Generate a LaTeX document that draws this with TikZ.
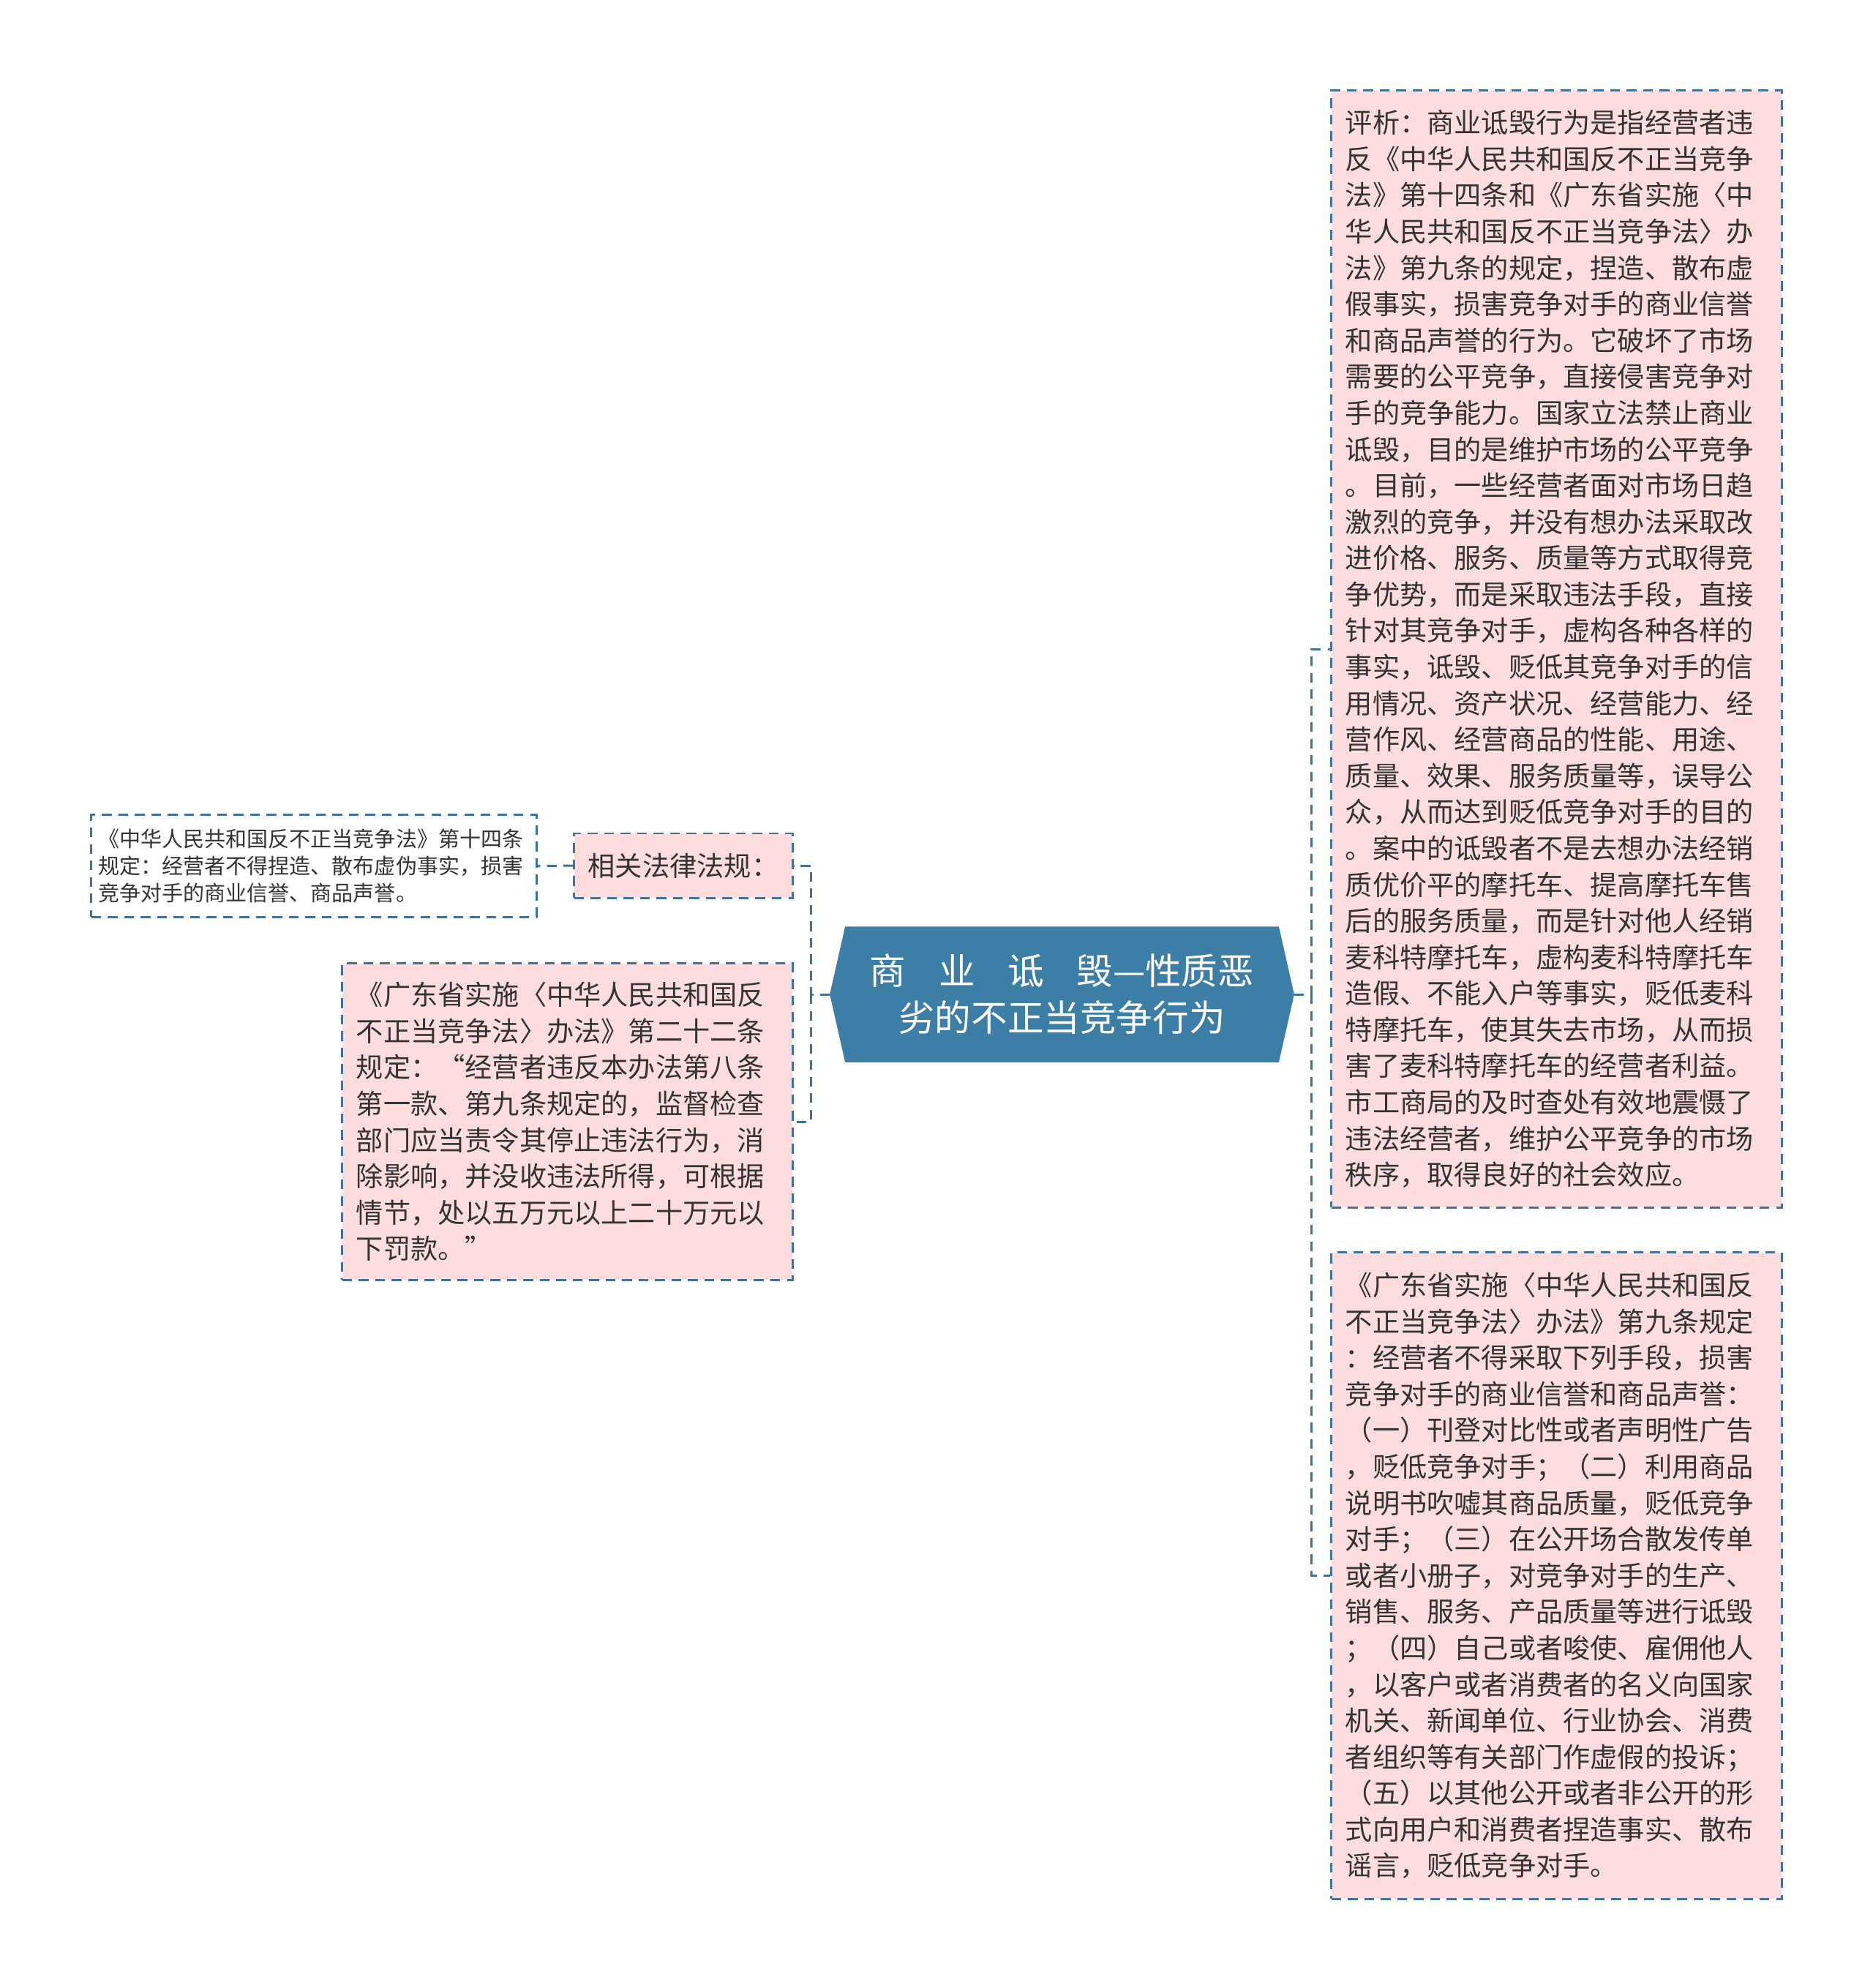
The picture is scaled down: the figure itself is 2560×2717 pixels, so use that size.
\documentclass[tikz,border=0pt]{standalone}
\usepackage{fontspec}
\usepackage{xcolor}
\usetikzlibrary{backgrounds, positioning}
\newfontfamily\cjk{Noto Sans CJK SC}
\definecolor{rootblue}{HTML}{3D7EA6}
\definecolor{notepink}{HTML}{FCDCDC}
\definecolor{dashblue}{HTML}{41739A}
\definecolor{inktext}{HTML}{333333}
\tikzset{
	dashline/.style = {draw = dashblue, line width = 0.85pt, dash pattern = on 3.8pt off 2.6pt},
	notebox/.style = {dashline, fill = notepink, inner sep = 0pt, text = inktext, align = left, text width = 5.77cm, minimum width = 6.15cm, font = \cjk\fontsize{10.58pt}{14.1pt}\selectfont},
	rootnode/.style = {inner sep = 0pt, minimum width = 6.33cm, minimum height = 1.84cm, text = white, align = center, font = \cjk\fontsize{14.1pt}{18.2pt}\selectfont},
	link/.style = {dashline}
}

\begin{document}
\begin{tikzpicture}[x = 0.01cm, y = -0.01cm]
	\useasboundingbox (0, 0) rectangle (2560, 2717);

	% centre
	\node [rootnode] (root) at (1451.5, 1359) {商\hspace{0.9em}业\hspace{0.9em}诋\hspace{0.9em}毁—性质恶\\劣的不正当竞争行为};
	\begin{scope}[on background layer]
		\fill [rootblue] (root.west) -- ([xshift = 0.21cm]root.north west) -- ([xshift = -0.21cm]root.north east) -- (root.east) -- ([xshift = -0.21cm]root.south east) -- ([xshift = 0.21cm]root.south west) -- cycle;
	\end{scope}

	% right side
	\node [notebox, minimum height = 15.26cm] (analysis) at (2127.5, 887) {评析：商业诋毁行为是指经营者违\\反《中华人民共和国反不正当竞争\\法》第十四条和《广东省实施〈中\\华人民共和国反不正当竞争法〉办\\法》第九条的规定，捏造、散布虚\\假事实，损害竞争对手的商业信誉\\和商品声誉的行为。它破坏了市场\\需要的公平竞争，直接侵害竞争对\\手的竞争能力。国家立法禁止商业\\诋毁，目的是维护市场的公平竞争\\。目前，一些经营者面对市场日趋\\激烈的竞争，并没有想办法采取改\\进价格、服务、质量等方式取得竞\\争优势，而是采取违法手段，直接\\针对其竞争对手，虚构各种各样的\\事实，诋毁、贬低其竞争对手的信\\用情况、资产状况、经营能力、经\\营作风、经营商品的性能、用途、\\质量、效果、服务质量等，误导公\\众，从而达到贬低竞争对手的目的\\。案中的诋毁者不是去想办法经销\\质优价平的摩托车、提高摩托车售\\后的服务质量，而是针对他人经销\\麦科特摩托车，虚构麦科特摩托车\\造假、不能入户等事实，贬低麦科\\特摩托车，使其失去市场，从而损\\害了麦科特摩托车的经营者利益。\\市工商局的及时查处有效地震慑了\\违法经营者，维护公平竞争的市场\\秩序，取得良好的社会效应。};
	\node [notebox, minimum height = 8.83cm] (rule9) at (2127.5, 2153.5) {《广东省实施〈中华人民共和国反\\不正当竞争法〉办法》第九条规定\\：经营者不得采取下列手段，损害\\竞争对手的商业信誉和商品声誉：\\（一）刊登对比性或者声明性广告\\，贬低竞争对手；（二）利用商品\\说明书吹嘘其商品质量，贬低竞争\\对手；（三）在公开场合散发传单\\或者小册子，对竞争对手的生产、\\销售、服务、产品质量等进行诋毁\\；（四）自己或者唆使、雇佣他人\\，以客户或者消费者的名义向国家\\机关、新闻单位、行业协会、消费\\者组织等有关部门作虚假的投诉；\\（五）以其他公开或者非公开的形\\式向用户和消费者捏造事实、散布\\谣言，贬低竞争对手。};

	% left side
	\node [notebox, text width = 2.7cm, align = center, minimum width = 2.98cm, minimum height = 0.88cm] (laws) at (934, 1183) {相关法律法规：};
	\node [dashline, fill = white, inner sep = 0pt, text = inktext, align = left, text width = 5.88cm, minimum width = 6.08cm, minimum height = 1.39cm, font = \cjk\fontsize{8.25pt}{10.6pt}\selectfont] (article14) at (429, 1183.5) {《中华人民共和国反不正当竞争法》第十四条\\规定：经营者不得捏造、散布虚伪事实，损害\\竞争对手的商业信誉、商品声誉。};
	\node [notebox, minimum height = 4.32cm] (rule22) at (775.5, 1533) {《广东省实施〈中华人民共和国反\\不正当竞争法〉办法》第二十二条\\规定：“经营者违反本办法第八条\\第一款、第九条规定的，监督检查\\部门应当责令其停止违法行为，消\\除影响，并没收违法所得，可根据\\情节，处以五万元以上二十万元以\\下罚款。”};

	% connectors
	\coordinate (rjoint) at ([xshift = 0.24cm]root.east);
	\coordinate (ljoint) at ([xshift = -0.26cm]root.west);
	\draw [link] (root.east) -- (rjoint) |- (analysis.west);
	\draw [link] (rjoint) |- (rule9.west);
	\draw [link] (root.west) -- (ljoint) |- (laws.east);
	\draw [link] (ljoint) |- (rule22.east);
	\draw [link] (laws.west) -- (article14.east);
\end{tikzpicture}
\end{document}
